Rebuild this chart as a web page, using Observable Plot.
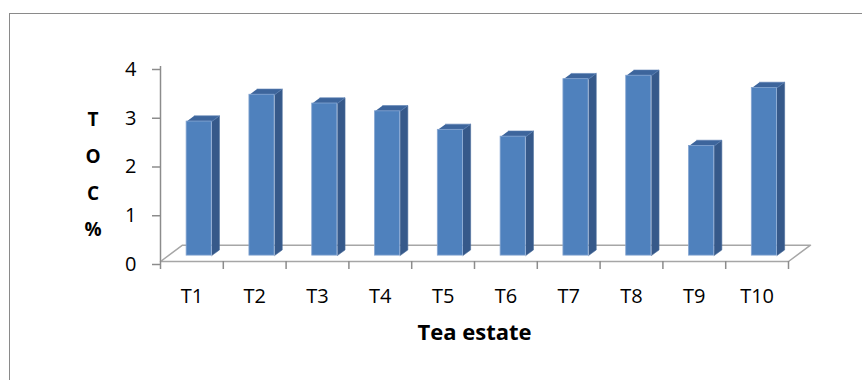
<!DOCTYPE html>
<html>
<head>
<meta charset="utf-8">
<script src="https://cdn.jsdelivr.net/npm/d3@7"></script>
<script src="https://cdn.jsdelivr.net/npm/@observablehq/plot@0.6"></script>
<style>
  html, body { margin: 0; padding: 0; background: #fff; overflow: hidden; }
  #wrap { position: relative; width: 862px; height: 380px; overflow: hidden; }
  #border { position: absolute; left: 9px; top: 13px; right: -20px; bottom: -20px;
            border: 1.5px solid #8a8a8a; pointer-events: none; }
  #chart { position: absolute; left: 0; top: 0; }
</style>
</head>
<body>
<div id="wrap">
  <div id="chart"></div>
  <div id="border"></div>
</div>
<script>
// Total organic carbon (%) per tea estate
const categories = ["T1", "T2", "T3", "T4", "T5", "T6", "T7", "T8", "T9", "T10"];
const toc = [2.75, 3.3, 3.12, 2.96, 2.58, 2.44, 3.62, 3.69, 2.25, 3.44];
const yTicks = [0, 1, 2, 3, 4];

// Oblique "3D" projection: depth of the floor expressed in x (band) and y (value) units
const DX = 0.35, DY = 0.335;
// each column spans this part of the floor depth and of its band
const FRONT = 0.36, BACK = 0.71;
const LEFT = 0.29, RIGHT = 0.69;

const pt = (i, fx, depth, v) => ({bar: i, x: i + fx + depth * DX, y: v + depth * DY});

const sides = toc.flatMap((v, i) => [
  pt(i, RIGHT, FRONT, 0), pt(i, RIGHT, BACK, 0), pt(i, RIGHT, BACK, v), pt(i, RIGHT, FRONT, v)
]);
const tops = toc.flatMap((v, i) => [
  pt(i, LEFT, FRONT, v), pt(i, RIGHT, FRONT, v), pt(i, RIGHT, BACK, v), pt(i, LEFT, BACK, v)
]);
const n = categories.length;
const floor = [
  {x: 0, y: 0}, {x: n, y: 0}, {x: n + DX, y: DY}, {x: DX, y: DY}, {x: 0, y: 0}
];

const axisGray = "#8c8c8c";

const chart = Plot.plot({
  width: 862,
  height: 380,
  marginLeft: 160,
  marginRight: 74,
  marginTop: 66,
  marginBottom: 119,
  x: {type: "linear", domain: [0, n], axis: null},
  y: {domain: [0, 4], axis: null},
  style: {fontFamily: "'Open Sans', sans-serif", fontSize: "20px", color: "#000", background: "#fff", overflow: "visible"},
  marks: [
    // floor of the 3D plot area
    Plot.line(floor, {x: "x", y: "y", stroke: "#a6a6a6", strokeWidth: 1.5}),
    // value axis
    Plot.ruleX([0], {y1: 0, y2: 4, stroke: axisGray, strokeWidth: 1.5}),
    Plot.axisY(yTicks, {label: null, tickSize: 8, tickPadding: 16, stroke: axisGray, strokeWidth: 1.5, dy: 3, fontSize: 20}),
    // category axis ticks between bands
    Plot.axisX(d3.range(n + 1), {label: null, tickSize: 8, tickFormat: () => "", stroke: axisGray, strokeWidth: 1.5}),
    // columns: side face, top face, front face
    Plot.line(sides, {x: "x", y: "y", z: "bar", fill: "#36598a", stroke: "#4a6d9c", strokeWidth: 0.6}),
    Plot.line(tops, {x: "x", y: "y", z: "bar", fill: "#3d659c", stroke: "#5a80b4", strokeWidth: 0.6}),
    Plot.rect(toc, {
      x1: (d, i) => i + LEFT + FRONT * DX,
      x2: (d, i) => i + RIGHT + FRONT * DX,
      y1: () => FRONT * DY,
      y2: (d) => d + FRONT * DY,
      fill: "#4f81bd", stroke: "#86a6d2", strokeWidth: 0.8
    }),
    // category labels
    Plot.text(categories, {x: (d, i) => i + 0.5, y: () => 0, text: (d) => d, dy: 35, fontSize: 20}),
    // axis titles
    Plot.text(["Tea estate"], {frameAnchor: "bottom", dy: 78, fontWeight: "bold", fontSize: 22}),
    Plot.text(["T\nO\nC\n%"], {frameAnchor: "left", textAnchor: "middle", dx: -67.5, dy: 5.5, lineHeight: 1.93, fontWeight: "bold", fontSize: 19})
  ]
});
document.getElementById("chart").append(chart);
</script>
</body>
</html>
